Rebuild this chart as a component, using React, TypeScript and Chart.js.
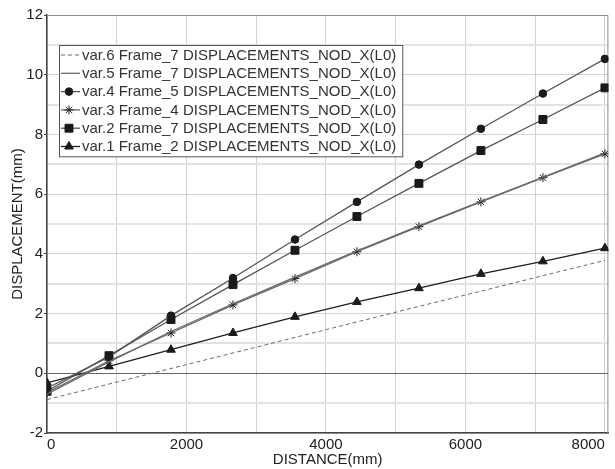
import React, { useEffect, useRef } from 'react';
import { Chart, registerables } from 'chart.js';
import { drawPoint } from 'chart.js/helpers';

Chart.register(...registerables);

const distances = [0, 889, 1778, 2667, 3556, 4444, 5333, 6222, 7111, 8000];

const seriesLabels = [
  'var.6 Frame_7 DISPLACEMENTS_NOD_X(L0)',
  'var.5 Frame_7 DISPLACEMENTS_NOD_X(L0)',
  'var.4 Frame_5 DISPLACEMENTS_NOD_X(L0)',
  'var.3 Frame_4 DISPLACEMENTS_NOD_X(L0)',
  'var.2 Frame_7 DISPLACEMENTS_NOD_X(L0)',
  'var.1 Frame_2 DISPLACEMENTS_NOD_X(L0)',
];

const xGridValues = [0, 1000, 2000, 3000, 4000, 5000, 6000, 7000, 8000];
const xTickLabels = ['0', '2000', '4000', '6000', '8000'];

const var6 = [-0.88, -0.36, 0.16, 0.68, 1.2, 1.72, 2.24, 2.75, 3.27, 3.78];
const var5 = [-0.7, 0.38, 1.4, 2.33, 3.22, 4.1, 4.94, 5.76, 6.56, 7.38];
const var4 = [-0.5, 0.55, 1.93, 3.19, 4.48, 5.74, 6.99, 8.19, 9.37, 10.53];
const var3 = [-0.65, 0.42, 1.35, 2.29, 3.17, 4.07, 4.91, 5.74, 6.55, 7.35];
const var2 = [-0.6, 0.59, 1.8, 2.97, 4.12, 5.25, 6.36, 7.46, 8.5, 9.56];
const var1 = [-0.32, 0.23, 0.79, 1.35, 1.89, 2.39, 2.85, 3.33, 3.75, 4.19];

const FONT = "'Liberation Sans', Arial, sans-serif";

const toPts = (vals: number[]) => vals.map((v, i) => ({ x: distances[i], y: v }));

const framePlugin = {
  id: 'frame',
  beforeDatasetsDraw(chart: any) {
    const { ctx, chartArea: a } = chart;
    ctx.save();
    ctx.strokeStyle = '#8a8a8a';
    ctx.lineWidth = 1;
    ctx.beginPath();
    ctx.moveTo(a.left, a.top + 0.5);
    ctx.lineTo(a.right - 0.5, a.top + 0.5);
    ctx.lineTo(a.right - 0.5, a.bottom);
    ctx.stroke();
    ctx.restore();
  },
};

const legendPlugin = {
  id: 'insideLegend',
  afterDatasetsDraw(chart: any) {
    const { ctx, chartArea: a } = chart;
    const ds = chart.data.datasets;
    const left = a.left + 12;
    const top = a.top + 30;
    const rowH = 18.3;
    ctx.save();
    ctx.font = `15px ${FONT}`;
    let maxW = 0;
    ds.forEach((d: any) => {
      maxW = Math.max(maxW, ctx.measureText(d.label).width);
    });
    const w = 22 + maxW + 7;
    const h = ds.length * rowH + 1.5;
    ctx.fillStyle = '#ffffff';
    ctx.fillRect(left, top, w, h);
    ctx.strokeStyle = '#555555';
    ctx.lineWidth = 1;
    ctx.strokeRect(left + 0.5, top + 0.5, w, h);
    ds.forEach((d: any, i: number) => {
      const cy = top + 10 + i * rowH;
      ctx.strokeStyle = d.borderColor;
      ctx.lineWidth = d.borderWidth;
      ctx.setLineDash(d.borderDash || []);
      ctx.beginPath();
      ctx.moveTo(left + 2, cy);
      ctx.lineTo(left + 21, cy);
      ctx.stroke();
      ctx.setLineDash([]);
      if (d.pointRadius > 0) {
        ctx.fillStyle = d.pointBackgroundColor;
        ctx.strokeStyle = d.pointBorderColor;
        ctx.lineWidth = d.pointBorderWidth;
        drawPoint(ctx, { pointStyle: d.pointStyle, radius: d.pointRadius, rotation: 0, borderWidth: d.pointBorderWidth }, left + 10, cy);
      }
      ctx.fillStyle = '#333333';
      ctx.textBaseline = 'middle';
      ctx.textAlign = 'left';
      ctx.fillText(d.label, left + 23, cy + 0.5);
    });
    ctx.restore();
  },
};

export default function App() {
  const ref = useRef<HTMLCanvasElement | null>(null);

  useEffect(() => {
    if (!ref.current) return;
    const mk = (label: string, vals: number[], color: string, style: any, radius: number, dash?: number[], width = 1.3) => ({
      label,
      data: toPts(vals),
      borderColor: color,
      borderWidth: width,
      borderDash: dash || [],
      pointStyle: style,
      pointRadius: radius,
      pointBackgroundColor: '#1a1a1a',
      pointBorderColor: '#1a1a1a',
      pointBorderWidth: 1,
      tension: 0,
      fill: false,
    });
    const chart = new Chart(ref.current, {
      type: 'line',
      data: {
        datasets: [
          mk(seriesLabels[0], var6, '#6a6a6a', 'circle', 0, [4, 3], 1),
          mk(seriesLabels[1], var5, '#6a6a6a', 'circle', 0),
          mk(seriesLabels[2], var4, '#555555', 'circle', 3.8),
          mk(seriesLabels[3], var3, '#666666', 'star', 4.5),
          mk(seriesLabels[4], var2, '#555555', 'rect', 5.6),
          mk(seriesLabels[5], var1, '#1e1e1e', 'triangle', 5),
        ],
      },
      options: {
        animation: false,
        responsive: false,
        devicePixelRatio: 1,
        layout: { padding: { top: 15, right: 1, left: 0, bottom: 0 } },
        plugins: {
          legend: { display: false },
          tooltip: { enabled: false },
          title: { display: false },
        },
        scales: {
          x: {
            type: 'linear',
            position: 'bottom',
            min: 0,
            max: 8050,
            afterBuildTicks: (s: any) => { s.ticks = xGridValues.map((v) => ({ value: v })); },
            afterFit: (s: any) => { s.height = 36; s.paddingLeft = 0; s.paddingRight = 0; },
            ticks: {
              autoSkip: false,
              maxRotation: 0,
              minRotation: 0,
              align: 'inner',
              padding: 3,
              color: '#222222',
              font: { family: FONT, size: 15 },
              callback: (v: any) => {
                const s = String(Math.round(Number(v)));
                return xTickLabels.includes(s) ? s : '';
              },
            },
            grid: { color: '#d2d2d2', lineWidth: 1, drawTicks: false },
            border: { color: '#444444', width: 1.5 },
            title: {
              display: true,
              text: 'DISTANCE(mm)',
              color: '#222222',
              font: { family: FONT, size: 15 },
              padding: { top: 0, bottom: 0 },
            },
          },
          y: {
            type: 'linear',
            min: -2,
            max: 12,
            afterFit: (s: any) => { s.width = 47; },
            ticks: {
              stepSize: 1,
              autoSkip: false,
              padding: 1,
              color: '#222222',
              font: { family: FONT, size: 15 },
              callback: (v: any) => (Math.abs(Number(v)) % 2 === 0 ? String(v) : ''),
            },
            grid: {
              color: (c: any) => {
                const v = c.tick ? c.tick.value : 0;
                if (v === 0) return '#666666';
                return Math.abs(v) % 2 === 1 ? '#e3e3e3' : '#d2d2d2';
              },
              lineWidth: (c: any) => {
                const v = c.tick ? c.tick.value : 0;
                return Math.abs(v) % 2 === 1 ? 2 : 1;
              },
              tickColor: (c: any) => {
                const v = c.tick ? c.tick.value : 0;
                return Math.abs(v) % 2 === 1 ? 'rgba(0,0,0,0)' : '#444444';
              },
              tickLength: 3,
            },
            border: { color: '#444444', width: 1.5 },
            title: {
              display: true,
              text: 'DISPLACEMENT(mm)',
              color: '#222222',
              font: { family: FONT, size: 15 },
              padding: { top: 9, bottom: 0 },
            },
          },
        },
      } as any,
      plugins: [framePlugin, legendPlugin],
    });
    return () => chart.destroy();
  }, []);

  return (
    <div style={{ position: 'absolute', left: 0, top: 0, width: 615, height: 469, background: '#ffffff', overflow: 'hidden' }}>
      <canvas ref={ref} width={615} height={469} style={{ width: 615, height: 469, display: 'block' }} />
    </div>
  );
}
